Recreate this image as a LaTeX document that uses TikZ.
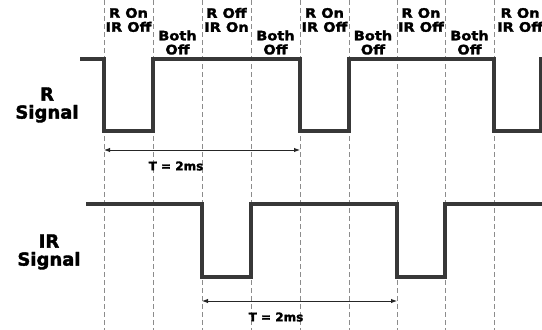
\documentclass[tikz,border=0pt]{standalone}
\usepackage{fontspec}
\setmainfont{DejaVu Sans}[BoldFeatures={FakeBold=2}]
\newfontfamily\widebold{DejaVu Sans Bold}[FakeBold=2,FakeStretch=1.12]
\usetikzlibrary{arrows.meta}
\begin{document}
\begin{tikzpicture}[x=1pt,y=-1pt,
 grid/.style={draw=black!45, dash pattern=on 5pt off 3pt, line width=0.9pt},
 sig/.style={draw=black!78, line width=3.2pt, line join=miter},
 dim/.style={draw=black!85, line width=0.9pt, {Latex[length=6pt,width=4.5pt]}-{Latex[length=6pt,width=4.5pt]}},
 lbl/.style={font=\widebold\fontsize{13}{14}\selectfont, align=center, inner sep=0pt},
 side/.style={font=\bfseries\fontsize{18}{18}\selectfont, align=center, inner sep=0pt},
 tlbl/.style={font=\bfseries\fontsize{12}{12}\selectfont, inner sep=0pt},
]
\useasboundingbox (0,0) rectangle (542,330);
% grid
\foreach \x in {104,153,202,251,300,349,397,445,494}
  \draw[grid] (\x,0) -- (\x,330);
% top labels
\node[lbl] (l1) at (128.5,20) {R On\\IR Off};
\node[lbl] (l2) at (177.5,42.5) {Both\\Off};
\node[lbl] (l3) at (226.5,20) {R Off\\IR On};
\node[lbl] (l4) at (275.5,42.5) {Both\\Off};
\node[lbl] (l5) at (324.5,20) {R On\\IR Off};
\node[lbl] (l6) at (373,42.5) {Both\\Off};
\node[lbl] (l7) at (421,20) {R On\\IR Off};
\node[lbl] (l8) at (469.5,42.5) {Both\\Off};
\node[lbl,anchor=west] (l9) at (497,20) {R On\\IR Off};
% side labels
\node[side] (rs) at (47,105) {R\\Signal};
\node[side] (irs) at (49,252) {IR\\Signal};
% signals
\draw[sig] (80,59) -- (104,59) -- (104,131) -- (153,131) -- (153,59) -- (300,59) -- (300,131) -- (349,131) -- (349,59) -- (494,59) -- (494,131) -- (541,131) -- (541,57);
\draw[sig] (86,204) -- (202,204) -- (202,277) -- (251,277) -- (251,204) -- (397,204) -- (397,277) -- (445,277) -- (445,204) -- (542,204);
% periods
\coordinate (ra) at (104,150);
\coordinate (rb) at (300,150);
\coordinate (ia) at (202,301);
\coordinate (ib) at (397,301);
\draw[dim] (ra) -- (rb);
\draw[dim] (ia) -- (ib);
\node[tlbl] (t1) at (176,166) {T = 2ms};
\node[tlbl] (t2) at (276,317) {T = 2ms};
\end{tikzpicture}
\end{document}
